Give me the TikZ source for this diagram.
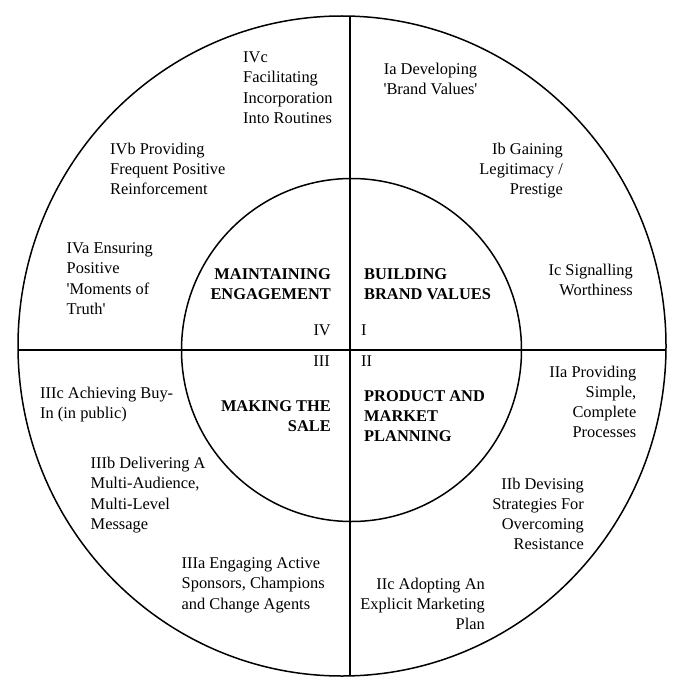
\documentclass[tikz,border=0pt]{standalone}
\usepackage{fontspec}
\setmainfont{Liberation Serif}
\begin{document}
\begin{tikzpicture}[x=1pt,y=-1pt,
  txt/.style={inner sep=0pt,font=\fontsize{16.4}{20.3}\selectfont},
  bld/.style={inner sep=0pt,font=\fontsize{16.4}{20}\selectfont\bfseries},
  ring/.style={line width=1.5pt},
  axis/.style={line width=1.2pt}]
\useasboundingbox[fill=white] (0,0) rectangle (685,695);
% circles
\draw[ring] (342,346) ellipse [x radius=324, y radius=330];
\draw[ring] (351.5,350) ellipse [x radius=170, y radius=171.5];
% axes
\coordinate (top) at (350,16.2);
\coordinate (bot) at (350,675.8);
\coordinate (lft) at (18.2,350);
\coordinate (rgt) at (665.8,350);
\draw[axis] (top) -- (bot);
\draw[axis] (lft) -- (rgt);
% outer texts
\node[txt,anchor=north west,align=left] (ivc) at (243,51.5) {IVc\\Facilitating\\Incorporation\\Into Routines};
\node[txt,anchor=north,align=center] (ia) at (430.5,62.5) {Ia Developing\\\textquotesingle Brand Values\textquotesingle};
\node[txt,anchor=north west,align=left] (ivb) at (110,142.5) {IVb Providing\\Frequent Positive\\Reinforcement};
\node[txt,anchor=north east,align=right] (ib) at (563,142.5) {Ib Gaining\\Legitimacy /\\Prestige};
\node[txt,anchor=north west,align=left] (iva) at (66.5,242.5) {IVa Ensuring\\Positive\\\textquotesingle Moments of\\Truth\textquotesingle};
\node[txt,anchor=north east,align=right] (ic) at (633,263.5) {Ic Signalling\\Worthiness};
\node[txt,anchor=north east,align=right] (iia) at (636.5,365.5) {IIa Providing\\Simple,\\Complete\\Processes};
\node[txt,anchor=north west,align=left] (iiic) at (40,386.5) {IIIc Achieving Buy-\\In (in public)};
\node[txt,anchor=north west,align=left] (iiib) at (90.5,457) {IIIb Delivering A\\Multi-Audience,\\Multi-Level\\Message};
\node[txt,anchor=north east,align=right] (iib) at (584,477.5) {IIb Devising\\Strategies For\\Overcoming\\Resistance};
\node[txt,anchor=north west,align=left] (iiia) at (181.5,557.5) {IIIa Engaging Active\\Sponsors, Champions\\and Change Agents};
\node[txt,anchor=north east,align=right] (iic) at (485,577.5) {IIc Adopting An\\Explicit Marketing\\Plan};
% inner texts
\node[bld,anchor=north east,align=right] (me) at (331,268.7) {MAINTAINING\\ENGAGEMENT};
\node[bld,anchor=north west,align=left] (bbv) at (364,268.7) {BUILDING\\BRAND VALUES};
\node[bld,anchor=north east,align=right] (mts) at (331,400.7) {MAKING THE\\SALE};
\node[bld,anchor=north west,align=left] (pmp) at (364,390.7) {PRODUCT AND\\MARKET\\PLANNING};
\node[txt,anchor=north east] (q4) at (331,324.5) {IV};
\node[txt,anchor=north west] (q1) at (361,324.5) {I};
\node[txt,anchor=north east] (q3) at (330,355.5) {III};
\node[txt,anchor=north west] (q2) at (361,355.5) {II};
\end{tikzpicture}
\end{document}
